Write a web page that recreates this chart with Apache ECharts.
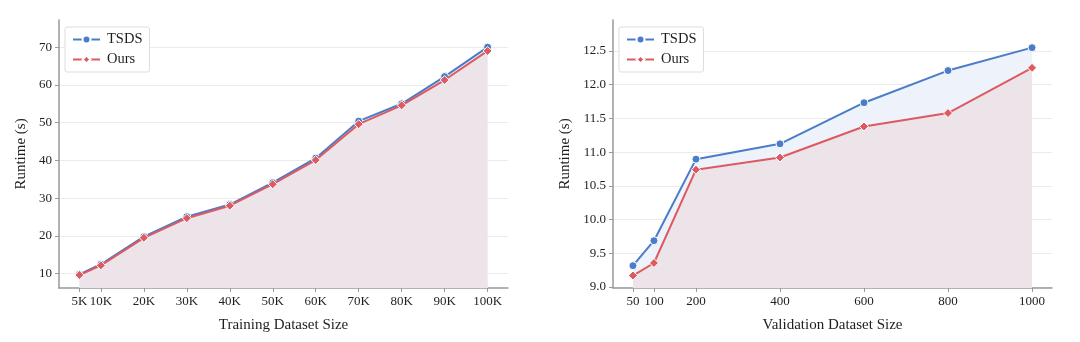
<!DOCTYPE html>
<html>
<head>
<meta charset="utf-8">
<script src="https://cdn.jsdelivr.net/npm/echarts@6/dist/echarts.min.js"></script>
<style>html,body{margin:0;padding:0;background:#fff}#c{width:1080px;height:342px}</style>
</head>
<body>
<div id="c"></div>
<script>
// Left chart: training dataset size (thousands)
const trainSizes = [5, 10, 20, 30, 40, 50, 60, 70, 80, 90, 100];
const trainTickLabels = ['5K','10K','20K','30K','40K','50K','60K','70K','80K','90K','100K'];
const trainTSDS = [9.8, 12.5, 19.8, 25.1, 28.3, 34.1, 40.6, 50.4, 55.0, 62.2, 70.0];
const trainOurs = [9.65, 12.2, 19.5, 24.7, 28.0, 33.7, 40.1, 49.6, 54.6, 61.3, 69.0];
const trainYTicks = [10, 20, 30, 40, 50, 60, 70];

// Right chart: validation dataset size
const valSizes = [50, 100, 200, 400, 600, 800, 1000];
const valTickLabels = ['50','100','200','400','600','800','1000'];
const valTSDS = [9.316, 9.687, 10.896, 11.123, 11.733, 12.21, 12.55];
const valOurs = [9.17, 9.356, 10.74, 10.92, 11.38, 11.58, 12.25];
const valYTicks = [9.0, 9.5, 10.0, 10.5, 11.0, 11.5, 12.0, 12.5];

const BLUE = '#4a7cc8', RED = '#dc5a60';
const FILL_BLUE = '#edf2fb', FILL_PINK = '#ece4e9';
const FONT = 'Liberation Serif';

const pairs = (xs, ys) => xs.map((x, i) => [x, ys[i]]);

function xAxisCfg(idx, min, max, ticks, labels, name) {
  return {
    type: 'value', gridIndex: idx, min, max, name,
    nameLocation: 'middle', nameGap: 30,
    nameTextStyle: {fontFamily: FONT, fontSize: 15, color: '#1e1e1e'},
    axisLine: {show: true, lineStyle: {color: '#999', width: 1.5}},
    axisTick: {show: true, customValues: ticks, length: 4, lineStyle: {color: '#999'}},
    axisLabel: {customValues: ticks, fontFamily: FONT, fontSize: 13, color: '#1e1e1e', margin: 7,
      formatter: v => { const i = ticks.indexOf(v); return i >= 0 ? labels[i] : ''; }},
    splitLine: {show: false}
  };
}
function yAxisCfg(idx, min, max, ticks, dec, gap) {
  return {
    type: 'value', gridIndex: idx, min, max, name: 'Runtime (s)',
    nameLocation: 'middle', nameGap: gap, nameRotate: 90,
    nameTextStyle: {fontFamily: FONT, fontSize: 15, color: '#1e1e1e'},
    axisLine: {show: true, lineStyle: {color: '#999', width: 1.5}},
    axisTick: {show: true, customValues: ticks, length: 4, lineStyle: {color: '#999'}},
    axisLabel: {customValues: ticks, fontFamily: FONT, fontSize: 13, color: '#1e1e1e', margin: 7,
      formatter: v => v.toFixed(dec)},
    splitLine: {show: true, lineStyle: {color: '#ebebeb', width: 1}}
  };
}
function seriesFor(idx, xs, tsds, ours) {
  return [
    {name: 'TSDS fill', type: 'line', xAxisIndex: idx, yAxisIndex: idx, data: pairs(xs, tsds),
      showSymbol: false, lineStyle: {width: 0}, areaStyle: {color: FILL_BLUE, opacity: 1, origin: 'start'},
      silent: true, z: 1},
    {name: 'Ours fill', type: 'line', xAxisIndex: idx, yAxisIndex: idx, data: pairs(xs, ours),
      showSymbol: false, lineStyle: {width: 0}, areaStyle: {color: FILL_PINK, opacity: 1, origin: 'start'},
      silent: true, z: 2},
    {name: 'TSDS', type: 'line', xAxisIndex: idx, yAxisIndex: idx, data: pairs(xs, tsds),
      symbol: 'circle', symbolSize: 8, color: BLUE,
      lineStyle: {color: BLUE, width: 2}, itemStyle: {color: BLUE, borderColor: '#fff', borderWidth: 1}, z: 3},
    {name: 'Ours', type: 'line', xAxisIndex: idx, yAxisIndex: idx, data: pairs(xs, ours),
      symbol: 'diamond', symbolSize: 9, color: RED,
      lineStyle: {color: RED, width: 2}, itemStyle: {color: RED, borderColor: '#fff', borderWidth: 1}, z: 4}
  ];
}
function legendCfg(left) {
  return {
    data: ['TSDS', 'Ours'], left, top: 27, orient: 'vertical',
    itemWidth: 27, itemHeight: 10, itemGap: 5, padding: [5, 7, 5, 7],
    backgroundColor: '#fff', borderColor: '#ddd', borderWidth: 1, borderRadius: 2,
    textStyle: {fontFamily: FONT, fontSize: 14.5, color: '#1e1e1e', padding: [0, 0, 0, 2]}
  };
}

const chart = echarts.init(document.getElementById('c'), null, {renderer: 'canvas'});
chart.setOption({
  animation: false,
  backgroundColor: '#fff',
  grid: [
    {left: 59, top: 20, right: 572, bottom: 54},
    {left: 613, top: 20, right: 28, bottom: 54}
  ],
  xAxis: [
    xAxisCfg(0, 0.25, 104.75, trainSizes, trainTickLabels, 'Training Dataset Size'),
    xAxisCfg(1, 2.5, 1047.5, valSizes, valTickLabels, 'Validation Dataset Size')
  ],
  yAxis: [
    yAxisCfg(0, 6.2, 77.2, trainYTicks, 0, 30),
    yAxisCfg(1, 8.985, 12.96, valYTicks, 1, 40)
  ],
  legend: [legendCfg(65), legendCfg(619)],
  series: [
    ...seriesFor(0, trainSizes, trainTSDS, trainOurs),
    ...seriesFor(1, valSizes, valTSDS, valOurs)
  ]
});
</script>
</body>
</html>
